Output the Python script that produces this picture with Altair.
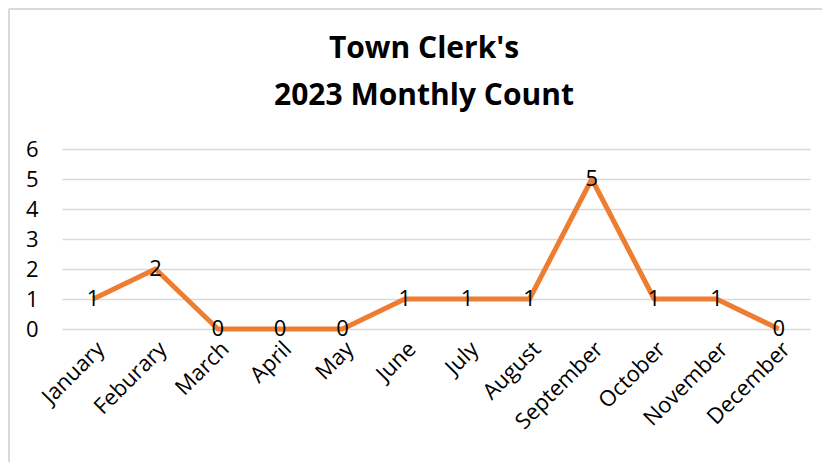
import altair as alt
import pandas as pd

months = ["January", "Feburary", "March", "April", "May", "June", "July",
          "August", "September", "October", "November", "December"]
counts = [1, 2, 0, 0, 0, 1, 1, 1, 5, 1, 1, 0]
y_ticks = [0, 1, 2, 3, 4, 5, 6]
title_lines = ["Town Clerk's", "2023 Monthly Count"]

df = pd.DataFrame({"month": months, "count": counts})

FONT = "Open Sans"
W, H = 748, 180

x = alt.X("month:N", sort=months, title=None,
          scale=alt.Scale(paddingInner=0, paddingOuter=0.5),
          axis=alt.Axis(labelAngle=-45, labelAlign="right", labelBaseline="top",
                        labelFontSize=22, labelFont=FONT, labelColor="#000000",
                        ticks=False, domain=False, grid=False, labelPadding=9))
y = alt.Y("count:Q", title=None,
          scale=alt.Scale(domain=[0, 6], nice=False),
          axis=alt.Axis(values=y_ticks, labelFontSize=22, labelFont=FONT,
                        labelColor="#000000", ticks=False, domain=False,
                        gridColor="#d9d9d9", gridWidth=1.5, labelPadding=24))

base = alt.Chart(df)
line = base.mark_line(color="#ED7D31", strokeWidth=5, strokeJoin="round").encode(x=x, y=y)
labels = base.mark_text(fontSize=22, font=FONT, color="#000000", baseline="middle",
                        align="center").encode(x=x, y=y, text="count:Q")

border_left = base.mark_rule(color="#d9d9d9", strokeWidth=2, clip=False).encode(
    x=alt.value(-53), y=alt.value(-140), y2=alt.value(400))
border_top = base.mark_rule(color="#d9d9d9", strokeWidth=2, clip=False).encode(
    x=alt.value(-53), x2=alt.value(800), y=alt.value(-140))

chart = alt.layer(border_left, border_top, line, labels).properties(
    width=W, height=H,
    title=alt.Title(text=title_lines, fontSize=30, font=FONT, fontWeight="bold",
                    color="#000000", lineHeight=47, anchor="middle", dx=-12, offset=-103),
    autosize=alt.AutoSizeParams(type="none"),
    padding={"left": 54, "top": 141, "right": 12, "bottom": 133},
).configure(background="white", view=alt.ViewConfig(stroke=None))

chart.save("out.html", embed_options={"renderer": "svg", "actions": False})
